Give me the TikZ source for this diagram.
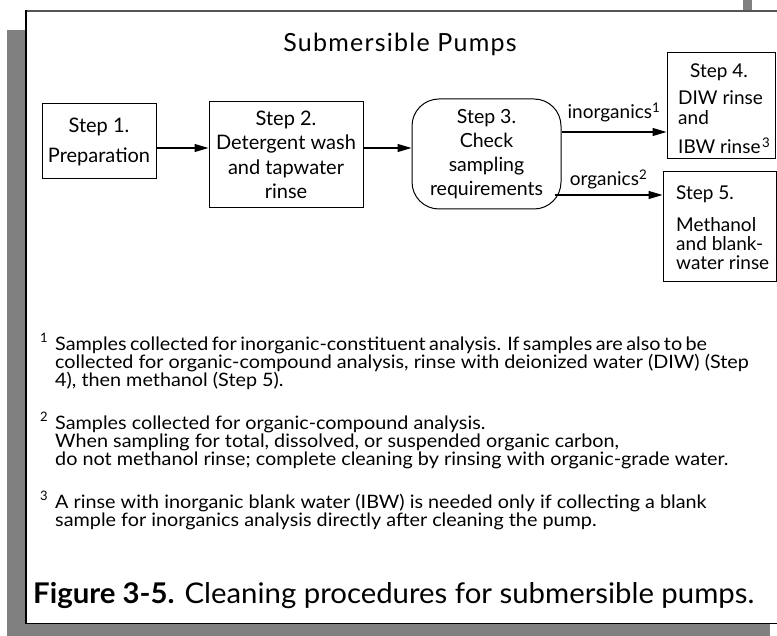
\documentclass[tikz,border=0pt]{standalone}
\usepackage{fontspec}
\setmainfont{Lato}
\newfontfamily\notefont[FakeStretch=1.07]{Lato}
\newfontfamily\capfont[FakeStretch=1.03]{Lato}
\newfontfamily\titlefont[LetterSpace=5]{Lato}
\usetikzlibrary{arrows.meta,calc}
\definecolor{shadegray}{HTML}{808080}
\definecolor{topline}{HTML}{555555}
\newcommand\fitln[2]{\makebox[#1pt][s]{#2}}
\begin{document}
\begin{tikzpicture}[x=1pt,y=-1pt,
  box/.style={draw, line width=1pt, inner sep=0pt},
  arr/.style={line width=1.1pt, -{Triangle[length=14pt,width=8pt]}},
  lbl/.style={font=\fontsize{19}{21}\selectfont, inner sep=0pt},
  boxtxt/.style={anchor=base west, inner sep=0pt, font=\fontsize{19}{19}\selectfont},
  note/.style={anchor=base west, inner sep=0pt, font=\notefont\fontsize{18.5}{18.5}\selectfont},
  supnum/.style={anchor=base west, inner sep=0pt, font=\fontsize{13}{13}\selectfont}]
\useasboundingbox (0,0) rectangle (777,636);
% frame
\fill[shadegray] (7,30) rectangle (770,636);
\fill[white] (25,10) rectangle (777,624);
\fill[shadegray] (743,0) rectangle (752,10);
\draw[topline, line width=2pt] (25,11) -- (777,11);
\draw[black, line width=2pt] (26,10) -- (26,624);
\draw[black, line width=1pt] (25,623.5) -- (777,623.5);
% title
\node[font=\titlefont\fontsize{25}{25}\selectfont] (title) at (400,44) {Submersible Pumps};
% boxes
\node[box, minimum width=114pt, minimum height=75pt, align=center,
  font=\fontsize{20}{24}\selectfont] (s1) at (99,141.5) {Step 1.\\[6pt]Preparation};
\node[box, minimum width=154pt, minimum height=106pt, align=center,
  font=\fontsize{20}{24.5}\selectfont] (s2) at (286,155) {Step 2.\\Detergent wash\\and tapwater\\rinse};
\node[box, rounded corners=27pt, minimum width=149pt, minimum height=110pt, align=center,
  font=\fontsize{19.5}{24}\selectfont] (s3) at (486.5,154) {Step 3.\\Check\\sampling\\requirements};
\node[box, minimum width=108pt, minimum height=106pt] (s4) at (721,106) {};
\node[box, minimum width=113pt, minimum height=110pt] (s5) at (719.5,227) {};
% texts of steps 4 and 5
\node[boxtxt] (s4a) at (690,78) {Step 4.};
\node[boxtxt] (s4b) at (678,105) {DIW rinse};
\node[boxtxt] (s4c) at (678,125) {and};
\node[boxtxt] (s4d) at (678,154) {IBW rinse\textsuperscript{\kern1.5pt 3}};
\node[boxtxt] (s5a) at (676,200) {Step 5.};
\node[boxtxt] (s5b) at (676,232) {Methanol};
\node[boxtxt] (s5c) at (676,251) {and blank-};
\node[boxtxt] (s5d) at (676,270) {water rinse};
% connectors
\draw[arr] ([yshift=-6.5pt]s1.east) -- ([yshift=-6.5pt]s1.east -| s2.west);
\draw[arr] ([yshift=7pt]s2.east) -- ([yshift=7pt]s2.east -| s3.west);
\draw[arr] ([yshift=22pt]s3.east) -- node[lbl, above=9pt] (lin) {inorganics\textsuperscript{1}} ([yshift=22pt]s3.east -| s4.west);
\draw[arr] ([xshift=-7pt,yshift=-41pt]s3.east) -- node[lbl, above=5pt] (lor) {organics\textsuperscript{2}} ([yshift=-41pt]s3.east -| s5.west);
% footnotes
\node[supnum] (k1) at (40,343) {1};
\node[note] (n1a) at (55,351) {\fitln{645}{Samples collected for inorganic-constituent analysis. If samples are also to be}};
\node[note] (n1b) at (55,369) {collected for organic-compound analysis, rinse with deionized water (DIW) (Step};
\node[note] (n1c) at (55,387) {4), then methanol (Step 5).};
\node[supnum] (k2) at (40,421) {2};
\node[note] (n2a) at (55,429) {Samples collected for organic-compound analysis.};
\node[note] (n2b) at (55,447) {When sampling for total, dissolved, or suspended organic carbon,};
\node[note] (n2c) at (55,465) {do not methanol rinse; complete cleaning by rinsing with organic-grade water.};
\node[supnum] (k3) at (40,500) {3};
\node[note] (n3a) at (55,508) {A rinse with inorganic blank water (IBW) is needed only if collecting a blank};
\node[note] (n3b) at (55,526) {sample for inorganics analysis directly after cleaning the pump.};
% caption
\node[anchor=west, inner sep=0pt, font=\capfont\fontsize{28.5}{28.5}\selectfont] (cap) at (33,596) {\textbf{Figure 3-5.} Cleaning procedures for submersible pumps.};
\end{tikzpicture}
\end{document}
